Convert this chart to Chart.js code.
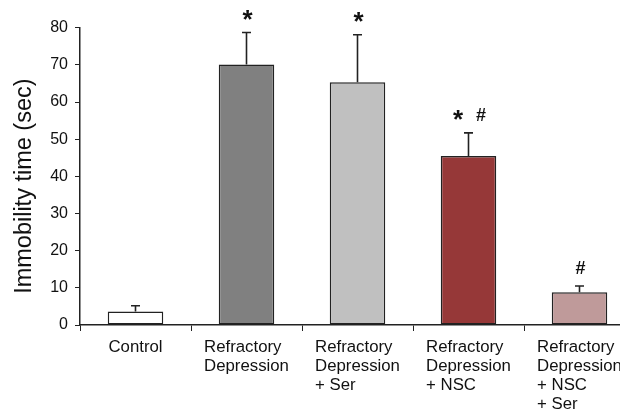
<!DOCTYPE html>
<html lang="en">
<head>
<meta charset="UTF-8" />
<title>Immobility time</title>
<script src="https://cdn.jsdelivr.net/npm/chart.js"></script>
<style>
  html, body { margin: 0; padding: 0; background: #fff; overflow: hidden; }
  #wrap { width: 640px; height: 410px; position: relative; }
</style>
</head>
<body>
<div id="wrap"><canvas id="immobilityChart"></canvas></div>
<script>
// data
const groups = [
  ['Control'],
  ['Refractory', 'Depression'],
  ['Refractory', 'Depression', '+ Ser'],
  ['Refractory', 'Depression', '+ NSC'],
  ['Refractory', 'Depression', '+ NSC', '+ Ser']
];
const immobility = [3.6, 70.1, 65.3, 45.5, 8.8];
const sem = [1.6, 8.6, 12.8, 6.2, 1.7];
const marks = [[], ['*'], ['*'], ['*', '#'], ['#']];
const yTicks = [0, 10, 20, 30, 40, 50, 60, 70, 80];
const barColors = ['#ffffff', '#808080', '#c0c0c0', '#963838', '#bf9a9a'];

const ink = '#222';
const fontFamily = '"Liberation Sans", Arial, sans-serif';

// error bars + significance marks above each bar
const errorBars = {
  id: 'errorBars',
  afterDatasetsDraw(chart) {
    const ctx = chart.ctx;
    const y = chart.scales.y;
    const meta = chart.getDatasetMeta(0);
    ctx.save();
    ctx.strokeStyle = ink;
    ctx.lineWidth = 1.6;
    meta.data.forEach((bar, i) => {
      const top = y.getPixelForValue(immobility[i] + sem[i]);
      ctx.beginPath();
      ctx.moveTo(bar.x, bar.y);
      ctx.lineTo(bar.x, top);
      ctx.moveTo(bar.x - 4.5, top);
      ctx.lineTo(bar.x + 4.5, top);
      ctx.stroke();

      const m = marks[i];
      const gap = 23;
      ctx.fillStyle = '#111';
      ctx.textAlign = 'center';
      ctx.textBaseline = 'alphabetic';
      m.forEach((s, j) => {
        ctx.font = 'bold ' + (s === '*' ? 26 : 18) + 'px ' + fontFamily;
        const mt = ctx.measureText(s);
        const cy = top - 18;
        const base = cy + (mt.actualBoundingBoxAscent - mt.actualBoundingBoxDescent) / 2;
        const cx = bar.x + 1 + (j - (m.length - 1) / 2) * gap;
        ctx.fillText(s, cx, base);
      });
    });
    ctx.restore();
  }
};

// category labels: block centred under the bar, lines left aligned
const groupLabels = {
  id: 'groupLabels',
  afterDraw(chart) {
    const ctx = chart.ctx;
    const x = chart.scales.x;
    ctx.save();
    ctx.font = '16.8px ' + fontFamily;
    ctx.fillStyle = '#111';
    ctx.textAlign = 'left';
    ctx.textBaseline = 'alphabetic';
    groups.forEach((lines, i) => {
      const cx = x.getPixelForValue(i);
      const w = Math.max(...lines.map(l => ctx.measureText(l).width));
      lines.forEach((l, j) => {
        ctx.fillText(l, cx - w / 2, x.top + 27 + j * 19);
      });
    });
    ctx.restore();
  }
};

new Chart(document.getElementById('immobilityChart'), {
  type: 'bar',
  data: {
    labels: groups.map(g => g.join(' ')),
    datasets: [{
      data: immobility,
      backgroundColor: barColors,
      borderColor: ink,
      borderWidth: 1.5,
      borderSkipped: false,
      barPercentage: 0.5,
      categoryPercentage: 1
    }]
  },
  options: {
    responsive: true,
    maintainAspectRatio: false,
    animation: false,
    layout: { padding: { top: 27.7, right: 5, bottom: 0, left: 0 } },
    plugins: { legend: { display: false }, tooltip: { enabled: false } },
    scales: {
      x: {
        offset: true,
        grid: { display: true, drawOnChartArea: false, drawTicks: true, tickLength: 6, color: ink, offset: true },
        border: { display: true, color: ink, width: 1.5 },
        ticks: { display: false },
        afterFit(scale) { scale.height = 85; }
      },
      y: {
        min: 0,
        max: 80,
        afterBuildTicks(scale) { scale.ticks = yTicks.map(v => ({ value: v })); },
        grid: { drawOnChartArea: false, drawTicks: true, tickLength: 5, color: ink },
        border: { display: true, color: ink, width: 1.5 },
        ticks: { padding: 7, color: '#111', font: { family: fontFamily, size: 16 } },
        title: {
          display: true,
          text: 'Immobility time (sec)   ',
          color: '#111',
          font: { family: fontFamily, size: 23.5 },
          padding: { top: 10, bottom: 0 }
        },
        afterFit(scale) { scale.width = 80; }
      }
    }
  },
  plugins: [errorBars, groupLabels]
});
</script>
</body>
</html>
